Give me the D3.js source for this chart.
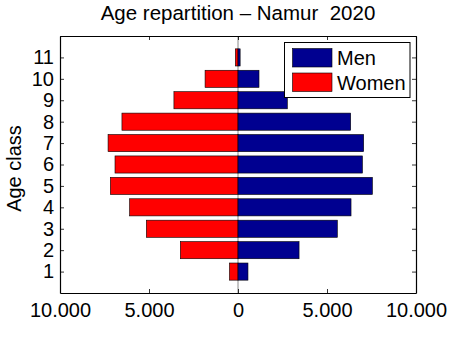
<!DOCTYPE html>
<meta charset="utf-8">
<script src="https://d3js.org/d3.v7.min.js"></script>
<style>
  body { margin: 0; background: #fff; }
  text { font-family: "Liberation Sans", Arial, Helvetica, sans-serif; fill: #000; }
</style>
<div id="chart"></div>
<script>
    const W = 460, H = 353;
    const margin = {top: 36, right: 44, bottom: 60, left: 60},
        width = 416 - margin.left,
        height = 293 - margin.top;

    const ageClasses = [1,2,3,4,5,6,7,8,9,10,11];
    const men   = [560, 3430, 5580, 6350, 7550, 6990, 7060, 6330, 2770, 1180, 120];
    const women = [480, 3240, 5150, 6090, 7170, 6910, 7300, 6520, 3600, 1850, 150];
    const xTicks = [-10000, -5000, 0, 5000, 10000];
    const xTickLabels = ["10.000", "5.000", "0", "5.000", "10.000"];
    const yTicks = ageClasses;

    const svg = d3.select("#chart")
        .append("svg")
            .attr("width", W)
            .attr("height", H)
        .append("g")
            .attr("transform", `translate(${margin.left},${margin.top})`);

    const x = d3.scaleLinear()
        .domain([-10000, 10000])
        .range([0, width]);

    const y = d3.scaleLinear()
        .domain([0, 12])
        .range([height, 0]);

    const barH = 0.8 * (y(0) - y(1));

    // baseline at zero
    svg.append("line")
        .attr("x1", x(0)).attr("x2", x(0))
        .attr("y1", 0).attr("y2", height)
        .attr("stroke", "#8a8a8a").attr("stroke-width", 1);

    // women (left)
    svg.selectAll(".women")
        .data(ageClasses)
        .join("rect")
        .attr("class", "women")
        .attr("x", (d, i) => x(-women[i]))
        .attr("y", d => y(d) - barH / 2)
        .attr("width", (d, i) => x(0) - x(-women[i]))
        .attr("height", barH)
        .attr("fill", "#ff0000")
        .attr("stroke", "#000").attr("stroke-width", 0.6);

    // men (right)
    svg.selectAll(".men")
        .data(ageClasses)
        .join("rect")
        .attr("class", "men")
        .attr("x", x(0))
        .attr("y", d => y(d) - barH / 2)
        .attr("width", (d, i) => x(men[i]) - x(0))
        .attr("height", barH)
        .attr("fill", "#000090")
        .attr("stroke", "#000").attr("stroke-width", 0.6);

    // axes, ticks pointing inward on all sides
    const fmt = d => xTickLabels[xTicks.indexOf(d)];
    const axBottom = svg.append("g")
        .attr("transform", `translate(0,${height})`)
        .call(d3.axisBottom(x).tickValues(xTicks).tickFormat(fmt).tickSizeInner(-4).tickSizeOuter(0).tickPadding(10));
    const axTop = svg.append("g")
        .call(d3.axisTop(x).tickValues(xTicks).tickFormat("").tickSizeInner(-4).tickSizeOuter(0));
    const axLeft = svg.append("g")
        .call(d3.axisLeft(y).tickValues(yTicks).tickFormat(d3.format("d")).tickSizeInner(-4).tickSizeOuter(0).tickPadding(6));
    const axRight = svg.append("g")
        .attr("transform", `translate(${width},0)`)
        .call(d3.axisRight(y).tickValues(yTicks).tickFormat("").tickSizeInner(-4).tickSizeOuter(0));

    [axBottom, axTop, axLeft, axRight].forEach(g => {
        g.select(".domain").attr("stroke", "#000").attr("stroke-width", 1.2);
        g.selectAll(".tick line").attr("stroke", "#000").attr("stroke-width", 0.8);
        g.selectAll("text").attr("font-size", 20).attr("font-family", "Liberation Sans, Arial, sans-serif").attr("fill", "#000");
    });

    // title
    svg.append("text")
        .attr("x", width / 2)
        .attr("y", 20 - margin.top)
        .attr("text-anchor", "middle")
        .attr("font-size", 20.5)
        .style("white-space", "pre")
        .text("Age repartition \u2013 Namur  2020");

    // y label
    svg.append("text")
        .attr("transform", `translate(${21 - margin.left},${height / 2 + 4}) rotate(-90)`)
        .attr("text-anchor", "middle")
        .attr("font-size", 20)
        .text("Age class");

    // legend
    const legend = svg.append("g")
        .attr("transform", `translate(${284.5 - margin.left},${42.5 - margin.top})`);
    legend.append("rect")
        .attr("width", 125.5).attr("height", 55)
        .attr("fill", "#fff").attr("stroke", "#000").attr("stroke-width", 1);
    const items = [{name: "Men", color: "#000090"}, {name: "Women", color: "#ff0000"}];
    items.forEach((it, i) => {
        legend.append("rect")
            .attr("x", 8).attr("y", 6 + i * 24.5)
            .attr("width", 39.5).attr("height", 18.5)
            .attr("fill", it.color).attr("stroke", "#000").attr("stroke-width", 0.6);
        legend.append("text")
            .attr("x", 52.5).attr("y", 22.5 + i * 25)
            .attr("font-size", 20)
            .text(it.name);
    });
</script>
